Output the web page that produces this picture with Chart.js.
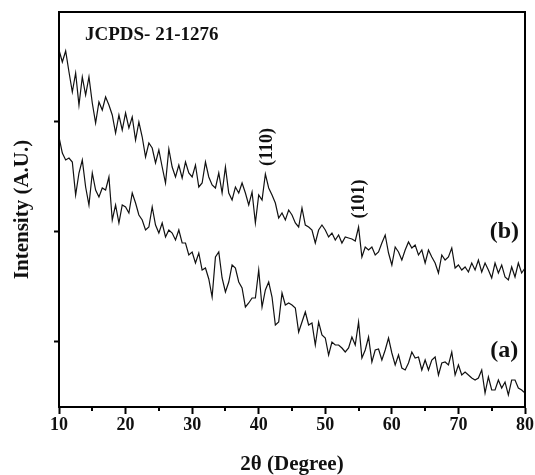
<!DOCTYPE html>
<html>
<head>
<meta charset="utf-8">
<script src="https://cdn.jsdelivr.net/npm/chart.js@4.4.0/dist/chart.umd.min.js"></script>
<style>
html, body { margin: 0; padding: 0; background: #fff; }
#wrap { width: 535px; height: 475px; }
</style>
</head>
<body>
<div id="wrap"><canvas id="xrd" width="535" height="475"></canvas></div>
<script>
// 2theta sample positions (degrees)
var twoTheta = [
  10.0,10.5,11.0,11.5,12.0,12.5,13.0,13.5,14.0,14.5,
  15.0,15.5,16.0,16.5,17.0,17.5,18.0,18.5,19.0,19.5,
  20.0,20.5,21.0,21.5,22.0,22.5,23.0,23.5,24.0,24.5,
  25.0,25.5,26.0,26.5,27.0,27.5,28.0,28.5,29.0,29.5,
  30.0,30.5,31.0,31.5,32.0,32.5,33.0,33.5,34.0,34.5,
  35.0,35.5,36.0,36.5,37.0,37.5,38.0,38.5,39.0,39.5,
  40.0,40.5,41.0,41.5,42.0,42.5,43.0,43.5,44.0,44.5,
  45.0,45.5,46.0,46.5,47.0,47.5,48.0,48.5,49.0,49.5,
  50.0,50.5,51.0,51.5,52.0,52.5,53.0,53.5,54.0,54.5,
  55.0,55.5,56.0,56.5,57.0,57.5,58.0,58.5,59.0,59.5,
  60.0,60.5,61.0,61.5,62.0,62.5,63.0,63.5,64.0,64.5,
  65.0,65.5,66.0,66.5,67.0,67.5,68.0,68.5,69.0,69.5,
  70.0,70.5,71.0,71.5,72.0,72.5,73.0,73.5,74.0,74.5,
  75.0,75.5,76.0,76.5,77.0,77.5,78.0,78.5,79.0,79.5,
  80.0
];

// sample (b) - upper trace, arbitrary units
var intensityB = [
  357,345,356,335,315,334,302,330,312,330,
  304,284,305,297,310,302,292,274,292,277,
  294,279,290,267,285,270,250,264,259,244,
  257,240,224,258,240,230,242,229,245,234,
  230,242,220,224,245,230,222,219,234,214,
  240,214,207,220,214,224,214,202,215,184,
  212,207,233,219,212,204,189,194,187,197,
  192,184,180,199,182,180,177,164,177,182,
  177,170,174,167,172,164,170,169,168,166,
  180,150,160,157,160,152,155,164,172,154,
  142,160,155,147,157,165,159,162,152,157,
  144,157,150,144,134,152,147,150,159,139,
  142,137,140,135,144,137,147,135,144,137,
  129,144,134,142,130,127,140,130,144,134,
  139
];

// sample (a) - lower trace
var intensityA = [
  270,254,247,249,245,212,234,247,220,202,
  234,217,210,219,217,230,187,202,184,202,
  200,194,214,204,192,187,177,180,200,182,
  174,184,170,177,174,167,177,164,164,152,
  155,144,154,137,139,128,110,150,155,129,
  115,125,142,139,125,119,100,104,109,109,
  137,100,117,125,110,82,85,114,102,104,
  102,99,75,85,95,82,84,62,85,72,
  69,52,65,62,62,59,55,59,70,62,
  85,49,57,70,45,57,58,47,57,69,
  54,42,52,39,37,44,55,49,50,37,
  47,37,47,50,32,44,45,42,55,32,
  42,32,35,32,29,27,29,37,14,30,
  17,17,27,19,25,12,27,27,19,17,
  14
];

var xMajorTicks = [10, 20, 30, 40, 50, 60, 70, 80];
var xMinorTicks = [15, 25, 35, 45, 55, 65, 75];
var yTicks = [66, 176, 286];

var serif = "'Liberation Serif', 'Times New Roman', 'DejaVu Serif', serif";

function toPoints(xs, ys) {
    return xs.map(function (x, i) { return { x: x, y: ys[i] }; });
}

// text drawn in data units: [text, x(2theta), y, size, rotated, align]
var labels = [
    ['JCPDS- 21-1276', 13.9, 372, 19, false, 'left'],
    ['(110)', 41.3, 260, 18, true, 'center'],
    ['(101)', 55.1, 208, 18, true, 'center'],
    ['(b)', 76.9, 175, 24, false, 'center'],
    ['(a)', 76.9, 56, 24, false, 'center']
];

var extras = {
    id: 'extras',
    afterDraw: function (chart) {
        var ctx = chart.ctx;
        var a = chart.chartArea;
        var xs = chart.scales.x, ys = chart.scales.y;
        ctx.save();
        // frame
        ctx.strokeStyle = '#000';
        ctx.lineWidth = 2;
        ctx.strokeRect(a.left, a.top, a.right - a.left, a.bottom - a.top);
        // minor x ticks
        xMinorTicks.forEach(function (v) {
            var px = Math.round(xs.getPixelForValue(v));
            ctx.beginPath();
            ctx.moveTo(px, a.bottom);
            ctx.lineTo(px, a.bottom + 4);
            ctx.stroke();
        });
        // text
        ctx.fillStyle = '#111';
        ctx.textBaseline = 'middle';
        labels.forEach(function (l) {
            var px = xs.getPixelForValue(l[1]);
            var py = ys.getPixelForValue(l[2]);
            ctx.font = 'bold ' + l[3] + 'px ' + serif;
            ctx.textAlign = l[5];
            if (l[4]) {
                ctx.save();
                ctx.translate(px, py);
                ctx.rotate(-Math.PI / 2);
                ctx.fillText(l[0], 0, 0);
                ctx.restore();
            } else {
                ctx.fillText(l[0], px, py);
            }
        });
        ctx.restore();
    }
};

var ctx = document.getElementById('xrd').getContext('2d');
new Chart(ctx, {
    type: 'line',
    data: {
        datasets: [
            { label: '(b)', data: toPoints(twoTheta, intensityB), borderColor: '#111', borderWidth: 1.2, pointRadius: 0, tension: 0, fill: false },
            { label: '(a)', data: toPoints(twoTheta, intensityA), borderColor: '#111', borderWidth: 1.2, pointRadius: 0, tension: 0, fill: false }
        ]
    },
    options: {
        responsive: false,
        animation: false,
        devicePixelRatio: 1,
        layout: { padding: { top: 12, right: 7, left: 0, bottom: 0 } },
        scales: {
            x: {
                type: 'linear',
                min: 10,
                max: 80,
                afterBuildTicks: function (scale) {
                    scale.ticks = xMajorTicks.map(function (v) { return { value: v }; });
                },
                afterFit: function (scale) { scale.height = 68; },
                border: { display: true, color: '#000', width: 2 },
                grid: { drawOnChartArea: false, drawTicks: true, tickLength: 7, tickWidth: 2, tickColor: '#000' },
                ticks: {
                    color: '#111',
                    padding: 1,
                    maxRotation: 0,
                    font: { family: serif, size: 18, weight: 'bold' }
                },
                title: {
                    display: true,
                    text: '2θ (Degree)',
                    color: '#111',
                    padding: { top: 0, bottom: 0 },
                    font: { family: serif, size: 21, weight: 'bold', lineHeight: 1 }
                }
            },
            y: {
                min: 0,
                max: 395,
                afterBuildTicks: function (scale) {
                    scale.ticks = yTicks.map(function (v) { return { value: v }; });
                },
                afterFit: function (scale) { scale.width = 59; },
                border: { display: true, color: '#000', width: 2 },
                grid: { drawOnChartArea: false, drawTicks: true, tickLength: 5, tickWidth: 2, tickColor: '#000' },
                ticks: { display: false },
                title: {
                    display: true,
                    text: 'Intensity (A.U.)',
                    color: '#111',
                    padding: { top: 10, bottom: 0 },
                    font: { family: serif, size: 21, weight: 'bold', lineHeight: 1.2 }
                }
            }
        },
        plugins: {
            legend: { display: false },
            tooltip: { enabled: false }
        }
    },
    plugins: [extras]
});
</script>
</body>
</html>
